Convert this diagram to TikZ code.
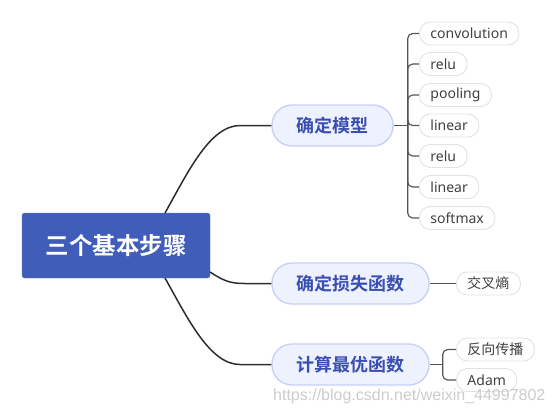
\documentclass[tikz,border=0pt]{standalone}
\usepackage{fontspec}
\setmainfont{Noto Sans}
\newfontfamily\cjk{Noto Sans CJK SC}
\newfontfamily\cjkb{Noto Sans CJK SC Bold}
\newfontfamily\wm{Liberation Sans}
\definecolor{mainblue}{RGB}{64,94,185}
\definecolor{brfill}{RGB}{238,241,254}
\definecolor{brdraw}{RGB}{200,208,247}
\definecolor{brtext}{RGB}{58,79,178}
\definecolor{leafdraw}{RGB}{226,226,226}
\definecolor{leaftext}{RGB}{64,64,64}
\definecolor{conn}{RGB}{45,45,45}
\definecolor{leafconn}{RGB}{85,85,85}
\tikzset{
  x=1pt, y=-1pt,
  mainbox/.style={draw=mainblue!80!white, fill=mainblue, rounded corners=2.5pt, minimum width=188pt, minimum height=65pt, inner sep=0pt, text=white, font=\cjkb\fontsize{23.5}{23.5}\selectfont},
  branch/.style={rectangle, rounded corners=20pt, draw=brdraw, line width=1.4pt, fill=brfill, minimum height=41pt, inner sep=0pt, text=brtext, font=\cjkb\fontsize{18}{18}\selectfont},
  leaf/.style={rectangle, rounded corners=11pt, draw=leafdraw, line width=0.9pt, fill=white, minimum height=23pt, inner xsep=11pt, inner ysep=0pt, anchor=west, text=leaftext, font=\fontsize{14}{14}\selectfont},
  cleaf/.style={leaf, font=\cjk\fontsize{14}{14}\selectfont},
  mainline/.style={draw=conn, line width=1.5pt},
  leafline/.style={draw=leafconn, line width=1.2pt, rounded corners=5pt},
}
\begin{document}
\begin{tikzpicture}
\useasboundingbox (0,0) rectangle (554,413);
\node[mainbox] (m) at (116,245.5) {三个基本步骤};
\node[branch, minimum width=121pt] (b1) at (332.5,125.5) {确定模型};
\node[branch, minimum width=157pt] (b2) at (350.5,283.5) {确定损失函数};
\node[branch, minimum width=157pt] (b3) at (350.5,364.5) {计算最优函数};
% leaves of branch 1
\node[leaf] (l1) at (419,33.5) {convolution};
\node[leaf] (l2) at (419,64) {relu};
\node[leaf] (l3) at (419,95) {pooling};
\node[leaf] (l4) at (419,125.5) {linear};
\node[leaf] (l5) at (419,156) {relu};
\node[leaf] (l6) at (419,187) {linear};
\node[leaf] (l7) at (419,218) {softmax};
% leaves of branch 2, 3
\node[cleaf] (k1) at (456,283.5) {交叉熵};
\node[cleaf] (r1) at (456,349.5) {反向传播};
\node[leaf] (r2) at (456,380) {Adam};
% main connectors
\coordinate (s1) at (165,213);
\coordinate (s2) at (210,272);
\coordinate (s3) at (165,278);
\draw[mainline] (s1) .. controls (188,172) and (210,125.5) .. (240,125.5) -- (b1.west);
\draw[mainline] (s2) .. controls (224,281) and (230,283.5) .. (245,283.5) -- (b2.west);
\draw[mainline] (s3) .. controls (188,319) and (210,364.5) .. (240,364.5) -- (b3.west);
% leaf connectors
\coordinate (j1) at ([xshift=14pt]b1.east);
\coordinate (j3) at ([xshift=13pt]b3.east);
\draw[leafline] (b1.east) -- (j1);
\foreach \l in {l1,l2,l3,l4,l5,l6,l7}{\draw[leafline] (j1) |- (\l.west);}
\draw[leafline] (b2.east) -- (k1.west);
\draw[leafline] (b3.east) -- (j3);
\foreach \l in {r1,r2}{\draw[leafline] (j3) |- (\l.west);}
% watermark
\node[anchor=base west, inner sep=0pt, text=black!20, font=\wm\fontsize{16}{16}\selectfont] (wm) at (273,400) {https://blog.csdn.net/weixin\_44997802};
\end{tikzpicture}
\end{document}
